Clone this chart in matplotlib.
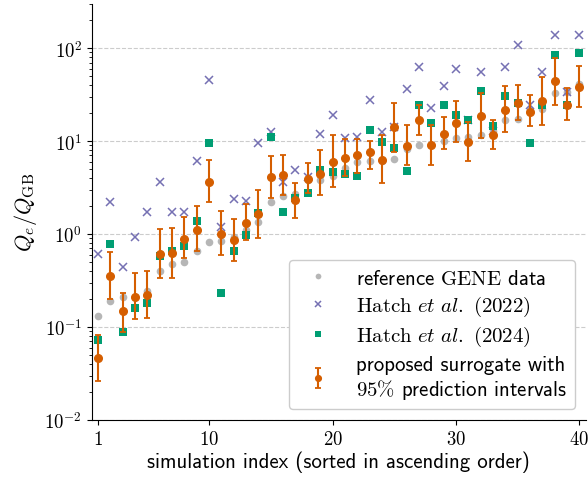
import numpy as np
import matplotlib.pyplot as plt
from matplotlib.ticker import FuncFormatter

plt.rcParams['mathtext.fontset'] = 'cm'
plt.rcParams['font.family'] = ['cmss10', 'DejaVu Sans']

# simulation index 1..40
sim_index = np.arange(1, 41)

gene_ref = [0.131, 0.189, 0.209, 0.21, 0.246, 0.401, 0.477, 0.506, 0.658, 0.822,
            0.843, 0.94, 1.11, 1.35, 2.20, 2.57, 2.70, 3.82, 3.82, 4.16,
            5.1, 5.97, 6.12, 6.18, 6.43, 8.24, 9.10, 9.10, 10.05, 10.7,
            11.1, 11.5, 12.7, 17.0, 17.3, 21.7, 22.2, 32.8, 33.6, 41.3]
hatch_2022 = [0.606, 2.20, 0.447, 0.924, 1.72, 3.64, 1.72, 1.72, 6.18, 44.9,
              1.20, 2.39, 2.24, 9.49, 12.4, 3.67, 4.83, 4.09, 11.95, 18.9,
              10.8, 11.1, 27.4, 12.5, 14.1, 36.5, 62.4, 22.6, 38.7, 59.4,
              16.9, 55.2, 12.8, 62.0, 107.0, 24.2, 55.2, 139.0, 33.6, 139.0]
hatch_2024 = [0.072, 0.777, 0.0877, 0.160, 0.183, 0.577, 0.664, 0.739, 1.37, 9.42,
              0.231, 0.653, 0.97, 1.67, 11.0, 1.72, 2.47, 2.75, 4.83, 4.66,
              4.4, 4.16, 13.2, 9.73, 8.39, 4.71, 24.2, 15.5, 24.2, 19.1,
              16.9, 34.5, 14.4, 30.2, 25.6, 9.42, 24.3, 83.4, 24.5, 88.3]
surrogate = [0.046, 0.354, 0.147, 0.212, 0.219, 0.611, 0.62, 0.879, 1.11, 3.64,
             0.995, 0.864, 1.33, 1.63, 4.06, 4.30, 2.31, 3.89, 4.43, 5.89,
             6.6, 7.0, 7.6, 6.28, 14.1, 8.87, 16.8, 9.10, 11.95, 15.6,
             9.66, 18.7, 11.7, 21.7, 25.6, 20.8, 26.7, 43.8, 24.5, 38.0]
surr_lo = [0.026, 0.200, 0.089, 0.122, 0.124, 0.334, 0.334, 0.549, 0.664, 2.20,
           0.591, 0.513, 0.858, 0.90, 2.47, 2.64, 1.48, 2.75, 2.64, 3.19,
           4.2, 4.51, 4.99, 3.52, 7.6, 5.54, 11.7, 5.54, 8.18, 9.73,
           6.03, 10.7, 8.18, 12.5, 16.9, 14.4, 14.9, 24.5, 16.9, 23.0]
surr_hi = [0.082, 0.648, 0.232, 0.378, 0.401, 1.12, 1.17, 1.54, 1.99, 6.23,
           1.77, 1.44, 2.11, 2.98, 6.83, 7.10, 3.58, 5.83, 8.04, 11.7,
           10.4, 10.5, 9.9, 11.7, 26.0, 14.9, 24.2, 14.9, 18.1, 26.7,
           15.9, 32.8, 16.7, 39.3, 40.3, 31.4, 48.7, 78.0, 37.1, 63.5]
x_ticks = [1, 10, 20, 30, 40]

surrogate = np.array(surrogate)
yerr = [surrogate - np.array(surr_lo), np.array(surr_hi) - surrogate]

fig = plt.figure(figsize=(5.88, 4.81), dpi=100)
ax = fig.add_axes([0.156, 0.125, 0.84, 0.865])

ax.plot(sim_index, gene_ref, 'o', color='#aaaaaa', ms=5.5, alpha=0.85, mew=0,
        label=r'reference $\mathrm{GENE}$ data', zorder=2)
ax.plot(sim_index, hatch_2022, 'x', color='#7570b3', ms=6, mew=1.1,
        label=r'$\mathrm{Hatch}\ \mathit{et\ al.}\ \mathrm{(2022)}$', zorder=3)
ax.plot(sim_index, hatch_2024, 's', color='#009e73', ms=5.5, mew=0,
        label=r'$\mathrm{Hatch}\ \mathit{et\ al.}\ \mathrm{(2024)}$', zorder=4)
ax.errorbar(sim_index, surrogate, yerr=yerr, fmt='o', color='#d55e00', ms=5.5,
            elinewidth=1.5, capsize=2, capthick=1.3,
            label='proposed surrogate with\n' + r'$95\%$ prediction intervals', zorder=5)

ax.set_yscale('log')
ax.set_ylim(1e-2, 3e2)
ax.set_xlim(0.5, 40.5)
ax.set_xticks(x_ticks)
ax.set_xticklabels([r'$%d$' % t for t in x_ticks])
ax.yaxis.set_major_formatter(FuncFormatter(lambda v, p: r'$10^{%d}$' % round(np.log10(v))))
ax.tick_params(labelsize=13.5)
ax.yaxis.grid(True, which='major', ls='--', color='#cccccc', lw=0.8)
ax.set_axisbelow(True)
for s in ['top', 'right']:
    ax.spines[s].set_visible(False)

ax.set_xlabel('simulation index (sorted in ascending order)', fontsize=15, labelpad=2)
ax.set_ylabel(r'$Q_e/Q_{\mathrm{GB}}$', fontsize=16)

ax.legend(loc='lower right', fontsize=15, markerscale=0.75, labelspacing=0.3,
          framealpha=1.0)

fig.savefig('out.png', dpi=100)
